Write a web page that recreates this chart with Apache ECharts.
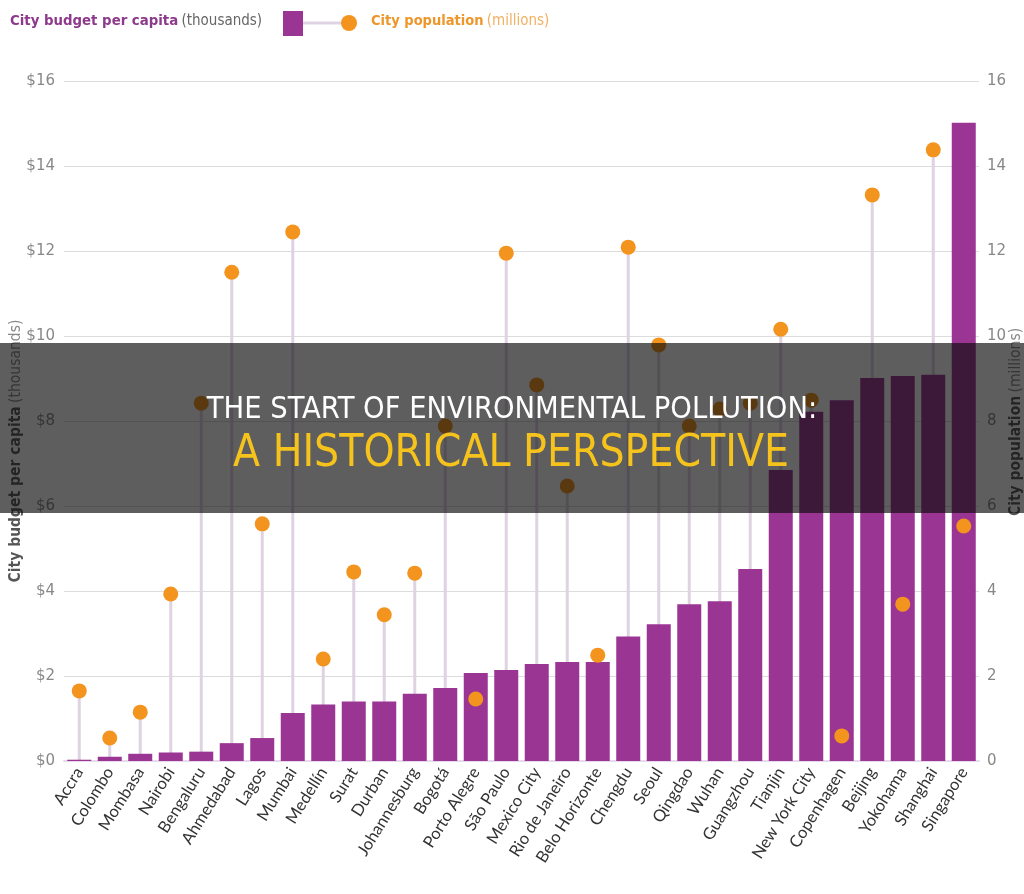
<!DOCTYPE html>
<html>
<head>
<meta charset="utf-8">
<script src="https://cdn.jsdelivr.net/npm/echarts@6/dist/echarts.min.js"></script>
<style>
html,body{margin:0;padding:0;background:#fff;}
#chart{width:1024px;height:894px;}
</style>
</head>
<body>
<div id="chart"></div>
<script>
const cities = ["Accra","Colombo","Mombasa","Nairobi","Bengaluru","Ahmedabad","Lagos","Mumbai","Medellín","Surat","Durban","Johannesburg","Bogotá","Porto Alegre","São Paulo","Mexico City","Rio de Janeiro","Belo Horizonte","Chengdu","Seoul","Qingdao","Wuhan","Guangzhou","Tianjin","New York City","Copenhagen","Beijing","Yokohama","Shanghai","Singapore"];
const budgetPerCapita = [0.03,0.1,0.17,0.2,0.22,0.42,0.54,1.13,1.33,1.4,1.4,1.58,1.72,2.07,2.14,2.28,2.33,2.33,2.93,3.22,3.69,3.76,4.52,6.85,8.22,8.49,9.01,9.06,9.09,15.02];
const population = [1.65,0.54,1.15,3.93,8.42,11.5,5.58,12.45,2.4,4.45,3.44,4.42,7.88,1.46,11.95,8.85,6.47,2.49,12.09,9.79,7.88,8.28,8.42,10.16,8.49,0.59,13.32,3.69,14.38,5.53];
const leftTicks = [0,2,4,6,8,10,12,14,16];
const rightTicks = [0,2,4,6,8,10,12,14,16];

const chart = echarts.init(document.getElementById('chart'));
const purple = '#9b3593';
const orange = '#f3941f';
const stem = '#dfd3e3';
const cond = 'DejaVu Sans Condensed, Roboto, sans-serif';

chart.setOption({
  animation: false,
  backgroundColor: '#fff',
  grid: {left: 64, right: 45, top: 81, bottom: 133},
  xAxis: {
    type: 'category',
    data: cities,
    axisLine: {show: true, lineStyle: {color: '#e6dbea', width: 2}},
    axisTick: {show: false},
    axisLabel: {interval: 0, rotate: 58, fontSize: 16.5, color: '#333', fontFamily: 'Lato', margin: 8}
  },
  yAxis: [{
    type: 'value', min: leftTicks[0], max: leftTicks[leftTicks.length-1], interval: 2,
    axisLine: {show: false}, axisTick: {show: false},
    axisLabel: {formatter: v => '$' + v, fontSize: 15, color: '#888', fontFamily: 'DejaVu Sans', margin: 9},
    splitLine: {lineStyle: {color: '#dcdcdc', width: 1}}
  },{
    type: 'value', min: rightTicks[0], max: rightTicks[rightTicks.length-1], interval: 2,
    position: 'right',
    axisLine: {show: false}, axisTick: {show: false},
    axisLabel: {fontSize: 15, color: '#888', fontFamily: 'DejaVu Sans', margin: 8},
    splitLine: {show: false}
  }],
  series: [{
    type: 'custom',
    yAxisIndex: 1,
    z: 1,
    data: population.map((v, i) => [i, v]),
    renderItem: function (params, api) {
      const p0 = api.coord([api.value(0), 0]);
      const p1 = api.coord([api.value(0), api.value(1)]);
      return {type: 'line', shape: {x1: p0[0], y1: p0[1], x2: p1[0], y2: p1[1]}, style: {stroke: stem, lineWidth: 3}};
    }
  },{
    type: 'bar',
    yAxisIndex: 0,
    z: 2,
    data: budgetPerCapita,
    barWidth: 24,
    itemStyle: {color: purple}
  },{
    type: 'scatter',
    yAxisIndex: 1,
    z: 3,
    data: population.map((v, i) => [i, v]),
    symbolSize: 15,
    itemStyle: {color: orange, opacity: 1}
  }],
  graphic: [
    {type: 'text', left: 10, top: 14, style: {
      text: '{b|City budget per capita} {r|(thousands)}',
      rich: {
        b: {fontFamily: cond, fontWeight: 'bold', fontSize: 14.8, fill: '#8e3a8c'},
        r: {fontFamily: cond, fontSize: 15, fill: '#666'}
      }
    }},
    {type: 'rect', shape: {x: 283, y: 11, width: 20, height: 25}, style: {fill: purple}},
    {type: 'line', shape: {x1: 303, y1: 23, x2: 345, y2: 23}, style: {stroke: stem, lineWidth: 3}},
    {type: 'circle', shape: {cx: 349, cy: 23, r: 8}, style: {fill: orange}},
    {type: 'text', left: 371, top: 14, style: {
      text: '{b|City population} {r|(millions)}',
      rich: {
        b: {fontFamily: cond, fontWeight: 'bold', fontSize: 14.5, fill: '#ef962a'},
        r: {fontFamily: cond, fontSize: 15, fill: '#f2b060'}
      }
    }},
    {type: 'text', x: 16, y: 451, rotation: Math.PI/2, style: {
      text: '{b|City budget per capita} {r|(thousands)}', align: 'center', verticalAlign: 'middle',
      rich: {
        b: {fontFamily: cond, fontWeight: 'bold', fontSize: 15.5, fill: '#555'},
        r: {fontFamily: cond, fontSize: 15.5, fill: '#888'}
      }
    }},
    {type: 'text', x: 1016, y: 422, rotation: Math.PI/2, style: {
      text: '{b|City population} {r|(millions)}', align: 'center', verticalAlign: 'middle',
      rich: {
        b: {fontFamily: cond, fontWeight: 'bold', fontSize: 15.5, fill: '#555'},
        r: {fontFamily: cond, fontSize: 15.5, fill: '#888'}
      }
    }},
    {type: 'rect', z: 100, shape: {x: 0, y: 343, width: 1024, height: 170}, style: {fill: 'rgba(10,10,10,0.66)'}},
    {type: 'text', z: 101, x: 512, y: 410, style: {
      text: 'THE START OF ENVIRONMENTAL POLLUTION:', align: 'center', verticalAlign: 'middle',
      fontFamily: cond, fontSize: 30.5, fill: '#ffffff'
    }},
    {type: 'text', z: 101, x: 511, y: 455, style: {
      text: 'A HISTORICAL PERSPECTIVE', align: 'center', verticalAlign: 'middle',
      fontFamily: cond, fontSize: 44, fill: '#f6c21c'
    }}
  ]
});
</script>
</body>
</html>
